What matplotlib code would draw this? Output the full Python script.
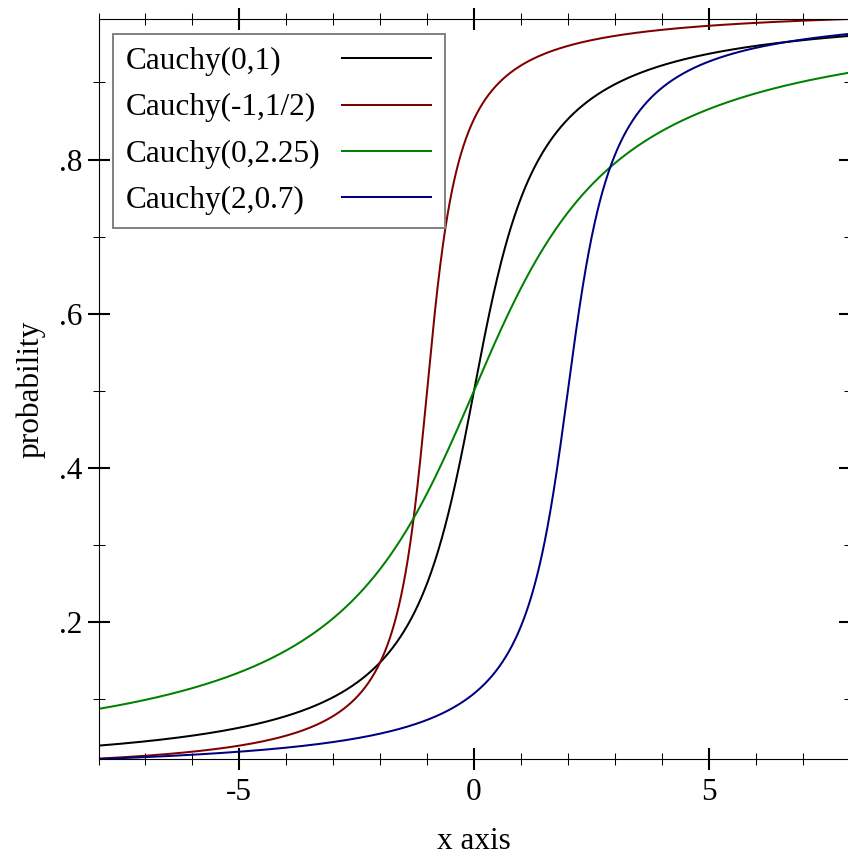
import numpy as np
import matplotlib
matplotlib.use("Agg")
import matplotlib.pyplot as plt
from matplotlib.ticker import MultipleLocator, FuncFormatter

# Cauchy distribution parameters (location, scale) as given in the legend
labels = ["Cauchy(0,1)", "Cauchy(-1,1/2)", "Cauchy(0,2.25)", "Cauchy(2,0.7)"]
locs = [0.0, -1.0, 0.0, 2.0]
scales = [1.0, 0.5, 2.25, 0.7]
colors = ["#000000", "#800000", "#008000", "#000080"]
x_range = [-8, 8]
x_major_ticks = [-5, 0, 5]
y_major_ticks = [0.2, 0.4, 0.6, 0.8]

plt.rcParams['font.family'] = ['Liberation Serif', 'DejaVu Serif']

W, H = 848, 856
DPI = 100
fig = plt.figure(figsize=(W / DPI, H / DPI), dpi=DPI)
left, right, top, bottom = 98.5, 849.5, 19, 759
ax = fig.add_axes([left / W, 1 - bottom / H, (right - left) / W, (bottom - top) / H])

x = np.linspace(x_range[0], x_range[1], 2000)
ys = []
for lab, m, s, c in zip(labels, locs, scales, colors):
    y = 0.5 + np.arctan((x - m) / s) / np.pi  # Cauchy CDF
    ys.append(y)
    ax.plot(x, y, color=c, lw=1.45, label=lab, solid_capstyle='butt')

ymin = min(y.min() for y in ys)
ymax = max(y.max() for y in ys)
ax.set_xlim(*x_range)
ax.set_ylim(ymin, ymax)

ax.set_xticks(x_major_ticks)
ax.set_yticks(y_major_ticks)
ax.xaxis.set_minor_locator(MultipleLocator(1))
ax.yaxis.set_minor_locator(MultipleLocator(0.1))
ax.yaxis.set_major_formatter(FuncFormatter(lambda v, p: ("%.1f" % v).lstrip("0")))
ax.xaxis.set_major_formatter(FuncFormatter(lambda v, p: "%d" % v))

fs = 22.5
ax.tick_params(which='major', direction='inout', length=15.8, width=1.5, labelsize=fs,
               top=True, right=True, color='black')
ax.tick_params(which='minor', direction='inout', length=8.6, width=0.75,
               top=True, right=True, color='black')
ax.tick_params(axis='x', which='major', pad=6)
ax.tick_params(axis='y', which='major', pad=3.5)
for sp in ['left', 'bottom', 'top']:
    ax.spines[sp].set_linewidth(0.8)
ax.spines['right'].set_visible(False)

ax.set_xlabel("x axis", fontsize=fs, labelpad=14)
ax.set_ylabel("probability", fontsize=fs, labelpad=10)

text_gap = 0.65
leg = ax.legend(loc='upper left', bbox_to_anchor=((113 - left) / (right - left), 1 - (34 - top) / (bottom - top)),
                fontsize=fs, markerfirst=False, frameon=True, fancybox=False,
                edgecolor='#808080', framealpha=1, borderaxespad=0,
                handlelength=2.9, handletextpad=text_gap, labelspacing=0.55,
                borderpad=0.42)
leg.get_frame().set_linewidth(1.4)

# left-align the legend texts while keeping the sample lines in one column
fig.canvas.draw()
renderer = fig.canvas.get_renderer()
texts = leg.get_texts()
widths = [t.get_window_extent(renderer).width for t in texts]
maxw = max(widths)
rows = []
for col in leg._legend_handle_box.get_children():
    rows.extend(col.get_children())
for hp, w in zip(rows, widths):
    hp.sep = text_gap * fs + (maxw - w) * 72.0 / DPI

fig.savefig("out.png", dpi=DPI)
